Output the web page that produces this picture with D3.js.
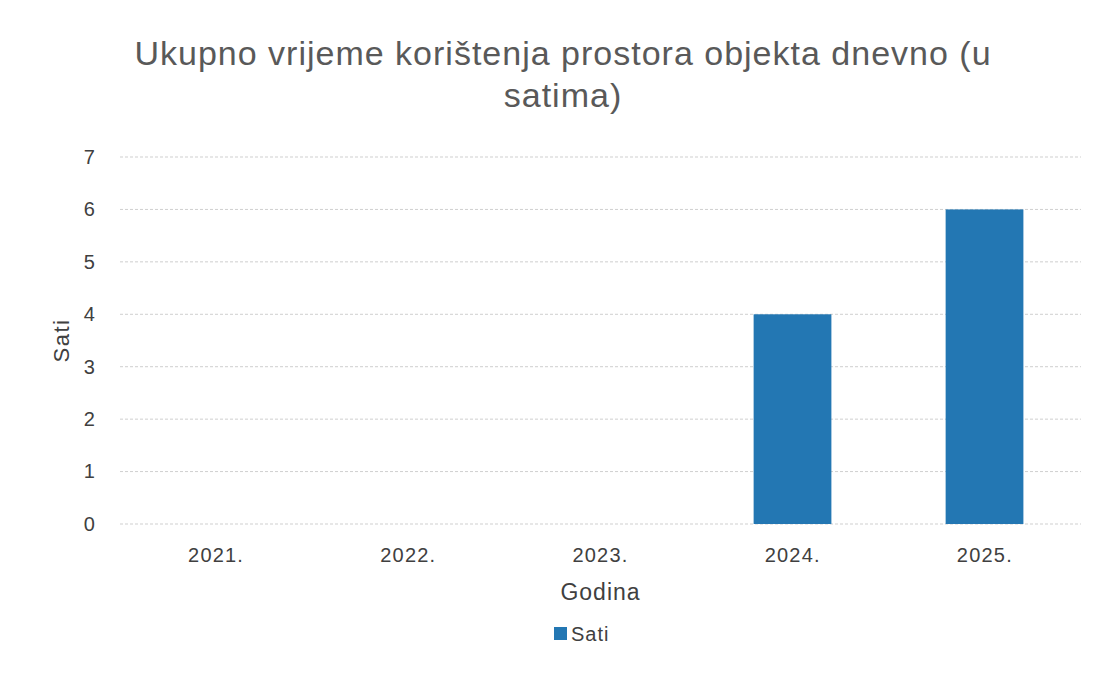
<!DOCTYPE html>
<html>
<head>
  <meta charset="utf-8">
  <style>
    html, body { margin: 0; overflow: hidden; background: #fff; }
    svg { display: block; }
    text { font-family: "Liberation Sans", Arial, sans-serif; }
    .grid line { stroke: #cfcfcf; stroke-width: 1px; stroke-dasharray: 3,2; }
    .axis text { fill: #404040; font-size: 20px; letter-spacing: 1.2px; font-family: "Liberation Sans", Arial, sans-serif; }
  </style>
  <script src="https://d3js.org/d3.v7.min.js"></script>
</head>
<body>
  <svg id="chart" width="1099" height="699"></svg>
  <script>
    var years = ["2021.", "2022.", "2023.", "2024.", "2025."];
    var hours = [0, 0, 0, 4, 6];
    var yTicks = [0, 1, 2, 3, 4, 5, 6, 7];
    var titleLines = ["Ukupno vrijeme korištenja prostora objekta dnevno (u", "satima)"];
    var seriesName = "Sati";

    var margin = {top: 157, right: 18, bottom: 175, left: 120};
    var width = 1099 - margin.left - margin.right;
    var height = 699 - margin.top - margin.bottom;

    var svg = d3.select("#chart");
    var g = svg.append("g")
      .attr("transform", "translate(" + margin.left + "," + margin.top + ")");

    var x = d3.scaleBand().domain(years).range([0, width]).paddingInner(0.595).paddingOuter(0.3);
    var y = d3.scaleLinear().domain([0, 7]).range([height, 0]);

    // grid
    g.append("g").attr("class", "grid")
      .selectAll("line").data(yTicks).enter().append("line")
      .attr("x1", 0).attr("x2", width)
      .attr("y1", function(d){ return y(d); })
      .attr("y2", function(d){ return y(d); });

    // bars
    g.append("g").selectAll("rect").data(hours).enter().append("rect")
      .attr("x", function(d, i){ return x(years[i]); })
      .attr("width", x.bandwidth())
      .attr("y", function(d){ return y(d); })
      .attr("height", function(d){ return height - y(d); })
      .attr("fill", "#2377b3");

    // y axis
    var yAxis = g.append("g").attr("class", "axis")
      .call(d3.axisLeft(y).tickValues(yTicks).tickFormat(d3.format("d")).tickSize(0).tickPadding(24));
    yAxis.select(".domain").remove();
    yAxis.attr("font-size", null).attr("font-family", null);

    // x axis
    var xBand = d3.scaleBand().domain(years).range([0, width]);
    var xAxis = g.append("g").attr("class", "axis")
      .attr("transform", "translate(0," + height + ")")
      .call(d3.axisBottom(xBand).tickSize(0).tickPadding(24));
    xAxis.select(".domain").remove();
    xAxis.attr("font-size", null).attr("font-family", null);

    // title
    svg.append("text")
      .attr("text-anchor", "middle")
      .attr("fill", "#595959")
      .style("font-size", "34px")
      .style("letter-spacing", "1px")
      .selectAll("tspan").data(titleLines).enter().append("tspan")
      .attr("x", 563)
      .attr("y", function(d, i){ return 65 + i * 42; })
      .text(function(d){ return d; });

    // axis titles
    svg.append("text")
      .attr("transform", "translate(69," + (margin.top + height / 2) + ") rotate(-90)")
      .attr("text-anchor", "middle")
      .attr("fill", "#404040")
      .style("font-size", "22px")
      .style("letter-spacing", "1.5px")
      .text(seriesName);

    svg.append("text")
      .attr("x", margin.left + width / 2).attr("y", 600)
      .attr("text-anchor", "middle")
      .attr("fill", "#404040")
      .style("font-size", "23px")
      .style("letter-spacing", "1px")
      .text("Godina");

    // legend
    var legend = svg.append("g").attr("transform", "translate(554,627)");
    legend.append("rect").attr("width", 13).attr("height", 13).attr("fill", "#2377b3");
    legend.append("text").attr("x", 17).attr("y", 14)
      .attr("fill", "#404040")
      .style("font-size", "20px")
      .style("letter-spacing", "1px")
      .text(seriesName);
  </script>
</body>
</html>
